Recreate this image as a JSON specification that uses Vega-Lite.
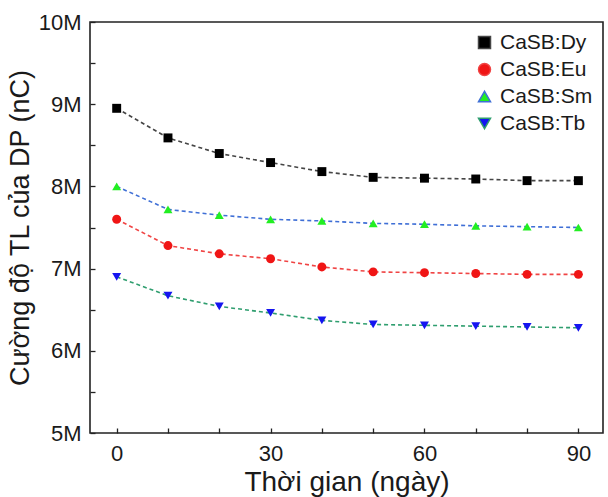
{
  "$schema": "https://vega.github.io/schema/vega-lite/v6.json",
  "autosize": "none",
  "padding": {"left": 90, "top": 22, "right": 5, "bottom": 64},
  "width": 513,
  "height": 411,
  "config": {
    "font": "Liberation Sans",
    "view": {"stroke": "#222222", "strokeWidth": 1.6},
    "axis": {"domain": false, "grid": false, "labelFont": "Liberation Sans", "titleFont": "Liberation Sans", "labelColor": "#1a1a1a", "titleColor": "#1a1a1a", "tickColor": "#222222", "tickWidth": 1.3, "titleFontWeight": "normal"},
    "legend": {"orient": "top-right", "offset": 8, "padding": 2, "labelFontSize": 21, "labelColor": "#1a1a1a", "labelOffset": 5, "symbolSize": 144, "symbolStrokeWidth": 1.5, "rowPadding": 5}
  },
  "data": {"values": [
    {"t": 0, "s": "CaSB:Dy", "v": 8950000}, {"t": 10, "s": "CaSB:Dy", "v": 8590000}, {"t": 20, "s": "CaSB:Dy", "v": 8400000}, {"t": 30, "s": "CaSB:Dy", "v": 8290000}, {"t": 40, "s": "CaSB:Dy", "v": 8180000}, {"t": 50, "s": "CaSB:Dy", "v": 8110000}, {"t": 60, "s": "CaSB:Dy", "v": 8100000}, {"t": 70, "s": "CaSB:Dy", "v": 8090000}, {"t": 80, "s": "CaSB:Dy", "v": 8070000}, {"t": 90, "s": "CaSB:Dy", "v": 8070000},
    {"t": 0, "s": "CaSB:Eu", "v": 7600000}, {"t": 10, "s": "CaSB:Eu", "v": 7280000}, {"t": 20, "s": "CaSB:Eu", "v": 7180000}, {"t": 30, "s": "CaSB:Eu", "v": 7120000}, {"t": 40, "s": "CaSB:Eu", "v": 7020000}, {"t": 50, "s": "CaSB:Eu", "v": 6960000}, {"t": 60, "s": "CaSB:Eu", "v": 6950000}, {"t": 70, "s": "CaSB:Eu", "v": 6940000}, {"t": 80, "s": "CaSB:Eu", "v": 6930000}, {"t": 90, "s": "CaSB:Eu", "v": 6930000},
    {"t": 0, "s": "CaSB:Sm", "v": 8000000}, {"t": 10, "s": "CaSB:Sm", "v": 7720000}, {"t": 20, "s": "CaSB:Sm", "v": 7650000}, {"t": 30, "s": "CaSB:Sm", "v": 7600000}, {"t": 40, "s": "CaSB:Sm", "v": 7580000}, {"t": 50, "s": "CaSB:Sm", "v": 7550000}, {"t": 60, "s": "CaSB:Sm", "v": 7540000}, {"t": 70, "s": "CaSB:Sm", "v": 7520000}, {"t": 80, "s": "CaSB:Sm", "v": 7510000}, {"t": 90, "s": "CaSB:Sm", "v": 7500000},
    {"t": 0, "s": "CaSB:Tb", "v": 6900000}, {"t": 10, "s": "CaSB:Tb", "v": 6670000}, {"t": 20, "s": "CaSB:Tb", "v": 6540000}, {"t": 30, "s": "CaSB:Tb", "v": 6460000}, {"t": 40, "s": "CaSB:Tb", "v": 6370000}, {"t": 50, "s": "CaSB:Tb", "v": 6320000}, {"t": 60, "s": "CaSB:Tb", "v": 6310000}, {"t": 70, "s": "CaSB:Tb", "v": 6300000}, {"t": 80, "s": "CaSB:Tb", "v": 6290000}, {"t": 90, "s": "CaSB:Tb", "v": 6280000}
  ]},
  "encoding": {
    "x": {"field": "t", "type": "quantitative", "scale": {"domain": [-5.2, 94.8], "nice": false, "zero": false},
      "axis": {"title": "Thời gian (ngày)", "values": [0, 10, 20, 30, 40, 50, 60, 70, 80, 90], "labelExpr": "datum.value % 30 === 0 ? datum.label : ''", "tickSize": -5, "labelPadding": 15, "labelFontSize": 22, "titleFontSize": 28, "titlePadding": 4}},
    "y": {"field": "v", "type": "quantitative", "scale": {"domain": [5000000, 10000000], "nice": false, "zero": false},
      "axis": {"title": "Cường độ TL của DP (nC)", "values": [5000000, 5500000, 6000000, 6500000, 7000000, 7500000, 8000000, 8500000, 9000000, 9500000, 10000000], "labelExpr": "datum.value % 1000000 === 0 ? format(datum.value / 1000000, 'd') + 'M' : ''", "tickSize": -5, "labelPadding": 14, "labelFontSize": 22, "titleFontSize": 27, "titlePadding": 4}}
  },
  "layer": [
    {
      "mark": {"type": "line", "strokeDash": [4, 3], "strokeWidth": 1.6},
      "encoding": {
        "stroke": {"field": "s", "type": "nominal", "scale": {"domain": ["CaSB:Dy", "CaSB:Eu", "CaSB:Sm", "CaSB:Tb"], "range": ["#454545", "#f04444", "#3f6fd6", "#2f9e6f"]},
          "legend": {"title": null,
            "encode": {"symbols": {"update": {
              "shape": {"signal": "datum.value === 'CaSB:Dy' ? 'M-7.5,0H-6.83M-6.33,0H-5.67M-5.17,0H-4.5M-2,0H-1.33M-0.83,0H-0.17M0.33,0H1M-3.92,-0.67H-2.58V0.67H-3.92Z' : datum.value === 'CaSB:Eu' ? 'M-7.5,0H-6.83M-6.33,0H-5.67M-5.17,0H-4.5M-2,0H-1.33M-0.83,0H-0.17M0.33,0H1M-4,0A0.75,0.75,0,1,0,-2.5,0A0.75,0.75,0,1,0,-4,0Z' : datum.value === 'CaSB:Sm' ? 'M-7.5,0H-6.83M-6.33,0H-5.67M-5.17,0H-4.5M-2,0H-1.33M-0.83,0H-0.17M0.33,0H1M-3.25,-0.85L-2.4,0.7L-4.1,0.7Z' : 'M-7.5,0H-6.83M-6.33,0H-5.67M-5.17,0H-4.5M-2,0H-1.33M-0.83,0H-0.17M0.33,0H1M-3.25,0.85L-2.4,-0.7L-4.1,-0.7Z'"},
              "fill": {"signal": "scale('fill', datum.value)"},
              "strokeWidth": {"value": 1.5},
              "strokeDash": {"value": []},
              "opacity": {"value": 1}
            }}}}}
      }
    },
    {
      "mark": {"type": "point", "filled": true, "opacity": 1, "size": 80},
      "encoding": {
        "fill": {"field": "s", "type": "nominal", "scale": {"domain": ["CaSB:Dy", "CaSB:Eu", "CaSB:Sm", "CaSB:Tb"], "range": ["#000000", "#f01515", "#22ee22", "#1515f0"]}, "legend": null},
        "shape": {"field": "s", "type": "nominal", "scale": {"domain": ["CaSB:Dy", "CaSB:Eu", "CaSB:Sm", "CaSB:Tb"], "range": ["square", "circle", "triangle-up", "triangle-down"]}, "legend": null}
      }
    }
  ]
}
